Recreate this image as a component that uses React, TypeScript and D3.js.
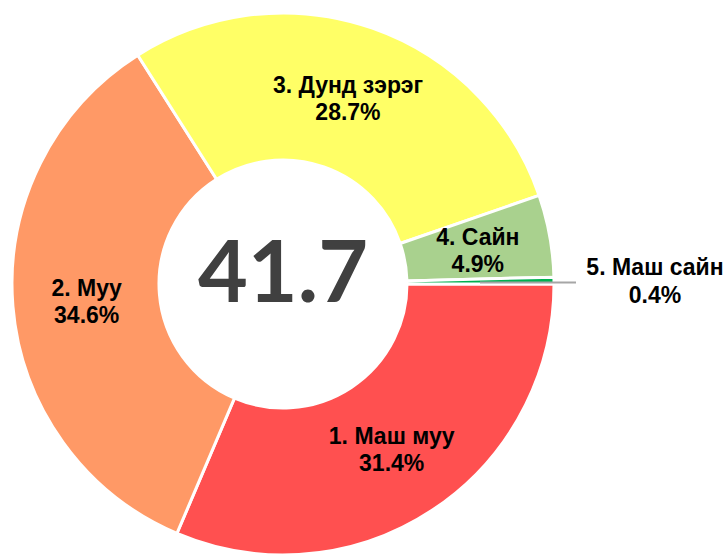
import React from "react";
import * as d3 from "d3";

const categories = ["1. Маш муу", "2. Муу", "3. Дунд зэрэг", "4. Сайн", "5. Маш сайн"];
const values = [31.4, 34.6, 28.7, 4.9, 0.4];
const colors = ["#FF5050", "#FF9966", "#FFFF66", "#A9D18E", "#00B050"];
const centerValue = "41.7";

const W = 728;
const H = 554;
const cx = 283;
const cy = 284;
const outerR = 271;
const innerR = 124;
const labelFont = "'Liberation Sans', Arial, sans-serif";
const labelSize = 23;
const lineGap = 27;

export default function App() {
  const pie = d3
    .pie<number>()
    .sort(null)
    .value((d) => d)
    .startAngle(Math.PI / 2)
    .endAngle(Math.PI / 2 + 2 * Math.PI);
  const arcs = pie(values);
  const arc = d3.arc<d3.PieArcDatum<number>>().innerRadius(innerR).outerRadius(outerR);
  const labelRadii = [197, 197, 197, 198, 197];
  const labelShift = [-4, -4, -5, -4, -7];

  return (
    <svg width={W} height={H} style={{ position: "absolute", left: 0, top: 0 }}>
      <rect width={W} height={H} fill="#fff" />
      <g transform={`translate(${cx},${cy})`}>
        {arcs.map((a, i) => (
          <path key={i} d={arc(a) || ""} fill={colors[i]} stroke="#fff" strokeWidth={3} />
        ))}
        {arcs.map((a, i) => {
          const mid = (a.startAngle + a.endAngle) / 2;
          const r = labelRadii[i];
          const x = Math.sin(mid) * r;
          const y = -Math.cos(mid) * r;
          const pct = values[i].toFixed(1) + "%";
          if (i === 4) {
            const lx = 293;
            const tx = 372;
            return (
              <g key={i}>
                <line x1={x} y1={y + 1} x2={lx} y2={y + 1} stroke="#A6A6A6" strokeWidth={2} />
                <text
                  x={tx}
                  y={y + labelShift[i]}
                  textAnchor="middle"
                  fontFamily={labelFont}
                  fontWeight="bold"
                  fontSize={labelSize}
                  fill="#000"
                >
                  <tspan x={tx} dy={0}>{categories[i]}</tspan>
                  <tspan x={tx} dy={lineGap + 1}>{pct}</tspan>
                </text>
              </g>
            );
          }
          return (
            <text
              key={i}
              x={x}
              y={y + labelShift[i]}
              textAnchor="middle"
              fontFamily={labelFont}
              fontWeight="bold"
              fontSize={labelSize}
              fill="#000"
            >
              <tspan x={x} dy={0}>{categories[i]}</tspan>
              <tspan x={x} dy={lineGap}>{pct}</tspan>
            </text>
          );
        })}
        <text
          x={0}
          y={18}
          textAnchor="middle"
          fontFamily="Lato, 'Open Sans', sans-serif"
          fontWeight="bold"
          fontSize={86}
          fill="#404040"
        >
          {centerValue}
        </text>
      </g>
    </svg>
  );
}
